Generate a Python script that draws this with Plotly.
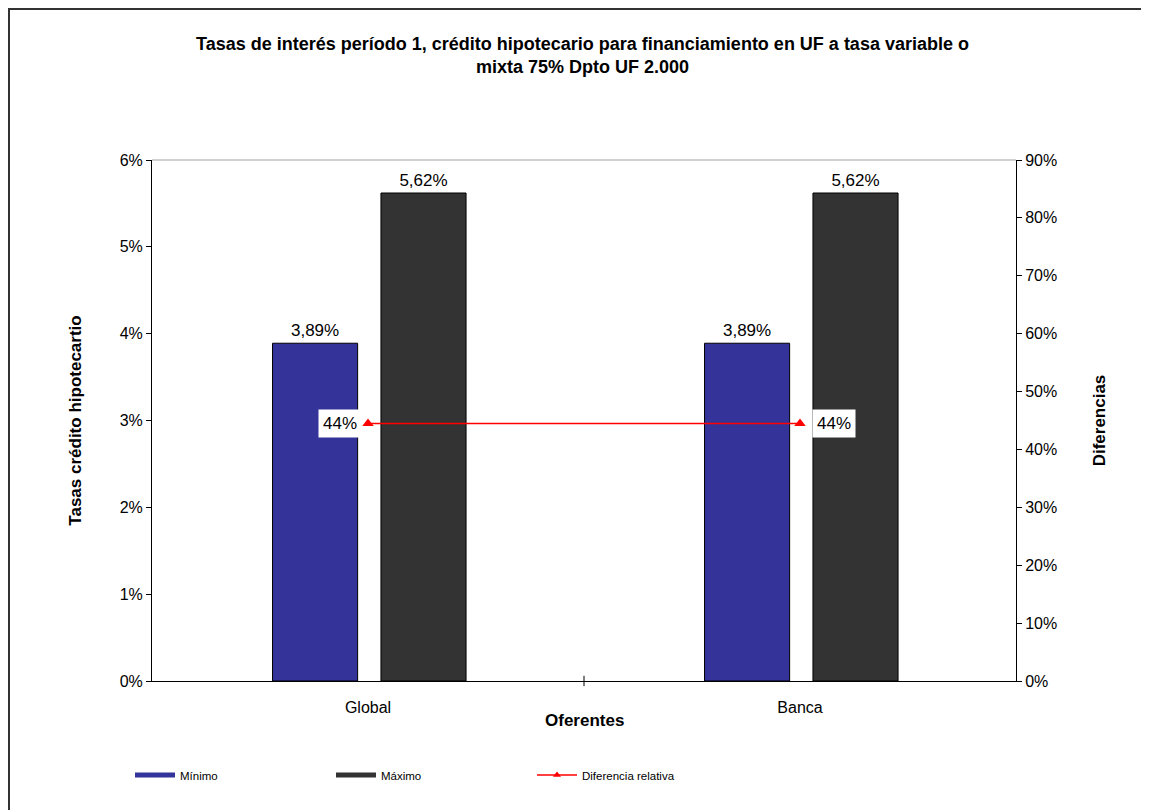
import plotly.graph_objects as go

categorias = ["Global", "Banca"]
minimo = [3.89, 3.89]
maximo = [5.62, 5.62]
diferencia = [44.47, 44.47]

FONT = "Liberation Sans, Arial, sans-serif"
COL_MIN = "#333399"
COL_MAX = "#333333"
COL_DIF = "red"

# page offset of 8px (body margin) is compensated in margins
L, T, PW, PH = 144, 152, 864, 521

fig = go.Figure()
fig.add_trace(go.Bar(
    x=categorias, y=minimo, name="Mínimo", showlegend=False,
    marker=dict(color=COL_MIN, line=dict(color="black", width=1)),
    width=0.197, offset=-0.221,
    texttemplate="%{y:.2f}%", textposition="outside",
    textfont=dict(size=17, color="black", family=FONT), cliponaxis=False,
))
fig.add_trace(go.Bar(
    x=categorias, y=maximo, name="Máximo", showlegend=False,
    marker=dict(color=COL_MAX, line=dict(color="black", width=1)),
    width=0.197, offset=0.03,
    texttemplate="%{y:.2f}%", textposition="outside",
    textfont=dict(size=17, color="black", family=FONT), cliponaxis=False,
))
fig.add_trace(go.Scatter(
    x=categorias, y=diferencia, name="Diferencia relativa", yaxis="y2",
    mode="lines+markers", showlegend=False,
    line=dict(color=COL_DIF, width=1.5),
    marker=dict(symbol="triangle-up", size=10, color=COL_DIF),
))

# legend entries (thin bar swatches like the original)
fig.add_trace(go.Scatter(x=[None], y=[None], name="Mínimo", mode="lines",
                         line=dict(color=COL_MIN, width=5)))
fig.add_trace(go.Scatter(x=[None], y=[None], name="Máximo", mode="lines",
                         line=dict(color=COL_MAX, width=5)))
fig.add_trace(go.Scatter(x=[None], y=[None], name="Diferencia relativa", mode="lines+markers",
                         line=dict(color=COL_DIF, width=1.5),
                         marker=dict(symbol="triangle-up", size=7, color=COL_DIF)))

anchors = ["right", "left"]
shifts = [-6, 12]
for c, d, a, s in zip(categorias, diferencia, anchors, shifts):
    fig.add_annotation(
        x=c, y=d, yref="y2", text=f"{d:.0f}%", showarrow=False,
        xanchor=a, xshift=s, bgcolor="white", borderpad=4,
        font=dict(size=17, color="black", family=FONT),
    )

# x axis title
fig.add_annotation(x=0.5, xref="paper", y=(681 - 720) / PH, yref="paper",
                   text="<b>Oferentes</b>", showarrow=False, yanchor="middle",
                   font=dict(size=17, color="black", family=FONT))

# outer chart frame
fig.add_shape(type="rect", xref="paper", yref="paper",
              x0=(1 - L) / PW, x1=1.3, y0=-0.35, y1=1 + (T - 1) / PH,
              line=dict(color="#333333", width=2), layer="below")
# plot area top border
fig.add_shape(type="line", xref="paper", yref="paper", x0=0, x1=1, y0=1, y1=1,
              line=dict(color="#c0c0c0", width=1.5))
# category divider tick on the x axis between the groups
fig.add_shape(type="line", xref="x", yref="paper", x0=0.5, x1=0.5, y0=-0.01, y1=0.01,
              line=dict(color="black", width=1))

fig.update_layout(
    width=1149, height=810,
    margin=dict(l=L, r=1149 - L - PW, t=T, b=810 - T - PH),
    paper_bgcolor="white", plot_bgcolor="white",
    separators=",.",
    font=dict(family=FONT, size=16, color="black"),
    title=dict(
        text="<b>Tasas de interés período 1, crédito hipotecario para financiamiento en UF a tasa variable o<br>mixta 75% Dpto UF 2.000</b>",
        x=0.5, xanchor="center", y=1 - 26 / 810, yanchor="top",
        pad=dict(t=16),
        font=dict(size=18, family=FONT),
    ),
    xaxis=dict(
        showline=True, linecolor="black", linewidth=1,
        ticks="", tickfont=dict(size=16), range=[-0.5, 1.5],
        ticklabelstandoff=12,
    ),
    yaxis=dict(
        title=dict(text="<b>Tasas crédito hipotecartio</b>", font=dict(size=17), standoff=33),
        range=[0, 6], dtick=1, ticksuffix="%", tickformat=".0f",
        showline=True, linecolor="black", linewidth=1,
        ticks="outside", ticklen=5, tickcolor="black",
        showgrid=False, zeroline=False, tickfont=dict(size=16),
    ),
    yaxis2=dict(
        title=dict(text="<b>Diferencias</b>", font=dict(size=17), standoff=36),
        overlaying="y", side="right",
        range=[0, 90], dtick=10, ticksuffix="%", tickformat=".0f",
        showline=True, linecolor="black", linewidth=1,
        ticks="outside", ticklen=5, tickcolor="black",
        showgrid=False, zeroline=False, tickfont=dict(size=16),
    ),
    legend=dict(
        orientation="h", x=(130 - 8 - L) / PW, xanchor="left",
        y=(681 - 775) / PH, yanchor="middle",
        entrywidth=146, entrywidthmode="pixels",
        itemwidth=40,
        font=dict(size=11.5), bgcolor="rgba(0,0,0,0)",
    ),
    showlegend=True,
)

fig.write_html("out.html")
